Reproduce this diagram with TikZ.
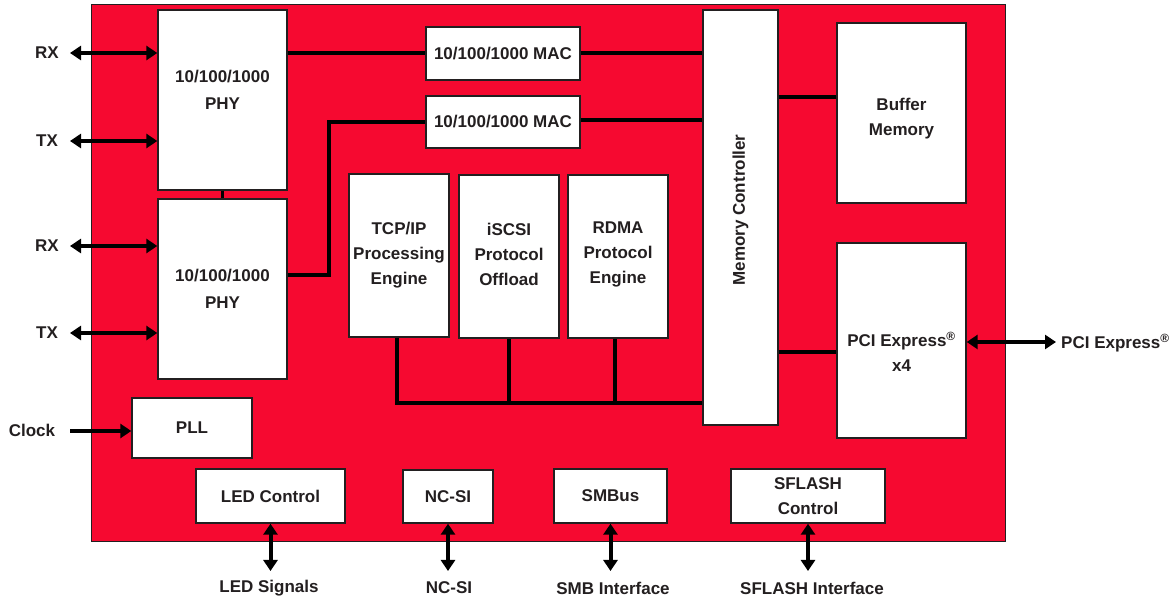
\documentclass[tikz,border=0pt]{standalone}
\usepackage{fontspec}
\setmainfont{Liberation Sans}
\usetikzlibrary{arrows.meta,calc}
\definecolor{chipred}{RGB}{246,9,48}
\definecolor{txtgray}{RGB}{35,31,32}
\begin{document}
\begin{tikzpicture}[x=1pt,y=-1pt,
  every node/.style={font=\fontsize{17}{25}\selectfont\bfseries, text=txtgray},
  blk/.style={draw=txtgray, line width=1.4pt, fill=white, inner sep=0pt, align=center},
  txt/.style={align=center, inner sep=0pt},
  wire/.style={line width=4pt, black},
  thin wire/.style={line width=2.5pt, black},
  biarrow/.style={line width=4pt, black, {Triangle[length=11pt,width=14pt]}-{Triangle[length=11pt,width=14pt]}},
  uniarrow/.style={line width=4pt, black, -{Triangle[length=11pt,width=14pt]}}]
\useasboundingbox (0,0) rectangle (1171,601);
\fill[white] (0,0) rectangle (1171,601);
% chip outline
\node[draw=txtgray, line width=1pt, fill=chipred, minimum width=914pt, minimum height=537pt, inner sep=0pt] (chip) at (548,273.5) {};
% blocks
\node[blk, minimum width=129pt, minimum height=180pt] (phyA) at (222.5,100) {};
\node[txt, font=\fontsize{17}{27}\selectfont\bfseries] (phyAt) at (222.5,90) {10/100/1000\\PHY};
\node[blk, minimum width=129pt, minimum height=180pt, font=\fontsize{17}{27}\selectfont\bfseries] (phyB) at (222.5,289) {10/100/1000\\PHY};
\node[blk, minimum width=154pt, minimum height=53pt] (mac1) at (503,53.5) {10/100/1000 MAC};
\node[blk, minimum width=154pt, minimum height=52pt] (mac2) at (503,122) {10/100/1000 MAC};
\node[blk, minimum width=75pt, minimum height=415pt] (mc) at (740.5,217.5) {};
\node[txt, rotate=90] (mct) at (740.5,210) {Memory Controller};
\node[blk, minimum width=129pt, minimum height=180pt] (buf) at (901.5,113) {};
\node[txt] (buft) at (901.5,119) {Buffer\\Memory};
\node[blk, minimum width=129pt, minimum height=195pt] (pci) at (901.5,340.5) {};
\node[txt] (pcit) at (901.5,352) {PCI Express\textsuperscript{®}\\x4};
\node[blk, minimum width=100pt, minimum height=163pt] (tcp) at (399,255.5) {TCP/IP\\Processing\\Engine};
\node[blk, minimum width=100pt, minimum height=163pt] (isc) at (509,256.5) {};
\node[txt] (isct) at (509,254) {iSCSI\\Protocol\\Offload};
\node[blk, minimum width=100pt, minimum height=163pt] (rdma) at (618,256.5) {};
\node[txt] (rdmat) at (618,254) {RDMA\\Protocol\\Engine};
\node[blk, minimum width=120pt, minimum height=60pt] (pll) at (192,428) {PLL};
\node[blk, minimum width=149pt, minimum height=54pt] (led) at (270.5,496) {LED Control};
\node[blk, minimum width=90pt, minimum height=53pt] (ncsi) at (448,496.5) {NC-SI};
\node[blk, minimum width=113pt, minimum height=54pt] (smb) at (610.5,496) {SMBus};
\node[blk, minimum width=154pt, minimum height=54pt] (sfl) at (808,496) {SFLASH\\Control};
% external labels
\node[txt] (rx1) at (47,53) {RX};
\node[txt] (tx1) at (47,141) {TX};
\node[txt] (rx2) at (47,246) {RX};
\node[txt] (tx2) at (47,333) {TX};
\node[txt] (clk) at (32,430) {Clock};
\node[txt, anchor=west] (pcix) at (1061,343) {PCI Express\textsuperscript{®}};
\node[txt] (ledx) at (269,588) {LED Signals};
\node[txt] (ncsix) at (449,588) {NC-SI};
\node[txt] (smbx) at (613,588) {SMB Interface};
\node[txt] (sflx) at (812,588) {SFLASH Interface};
% free ends
\coordinate (rx1e) at (70,53);
\coordinate (tx1e) at (70,141);
\coordinate (rx2e) at (70,246);
\coordinate (tx2e) at (70,333);
\coordinate (clke) at (70,431);
\coordinate (pcie) at (1056,342);
\coordinate (bote) at (0,571);
\coordinate (busy) at (0,403);
\coordinate (jog) at (329,275);
\coordinate (stem) at (397,0);
% left arrows
\draw[biarrow] (rx1e) -- (rx1e -| phyA.west);
\draw[biarrow] (tx1e) -- (tx1e -| phyA.west);
\draw[biarrow] (rx2e) -- (rx2e -| phyB.west);
\draw[biarrow] (tx2e) -- (tx2e -| phyB.west);
\draw[uniarrow] (clke) -- (clke -| pll.west);
% PHY-PHY link
\draw[thin wire] (phyA.south) -- (phyB.north);
% MAC connections
\draw[wire] (phyA.east |- mac1) -- (mac1.west);
\draw[wire] (mac1.east) -- (mac1 -| mc.west);
\draw[wire] (jog -| phyB.east) -- (jog) |- (mac2.west);
\draw[wire] ([yshift=2pt]mac2.east) -- ([yshift=2pt]mac2.east -| mc.west);
% memory controller links
\coordinate (bufy) at (0,97);
\coordinate (pciy) at (0,352);
\draw[wire] (bufy -| mc.east) -- (bufy -| buf.west);
\draw[wire] (pciy -| mc.east) -- (pciy -| pci.west);
% processing bus
\draw[wire] (stem |- tcp.south) |- (busy -| mc.west);
\draw[wire] (isc.south) -- (isc.south |- busy);
\draw[wire] ([xshift=-3pt]rdma.south) -- ([xshift=-3pt]rdma.south |- busy);
% PCI arrow
\draw[biarrow] (pcie -| pci.east) -- (pcie);
% bottom arrows
\draw[biarrow] (led.south) -- (led.south |- bote);
\draw[biarrow] (ncsi.south) -- (ncsi.south |- bote);
\draw[biarrow] (smb.south) -- (smb.south |- bote);
\draw[biarrow] (sfl.south) -- (sfl.south |- bote);
\end{tikzpicture}
\end{document}
